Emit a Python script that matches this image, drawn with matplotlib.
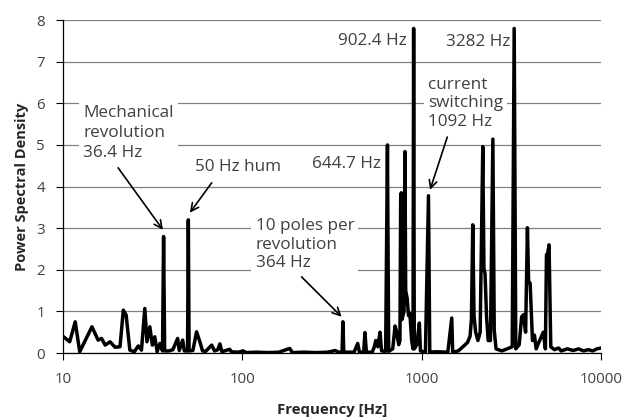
import matplotlib.pyplot as plt

plt.rcParams['font.family'] = ['Open Sans', 'DejaVu Sans']

# spectrum polyline (frequency in Hz, PSD)
freq = [10.0, 10.9, 11.7, 12.4, 14.5, 15.7, 16.4, 17.2, 18.3, 19.5, 20.8, 21.7, 22.5, 23.6,
        25.0, 26.3, 27.4, 28.6, 29.4, 30.5, 31.5, 32.5, 33.5, 34.7, 35.9, 36.4, 36.9, 39.0,
        41.0, 43.6, 44.5, 46.5, 47.5, 49.5, 50.0, 50.5, 53.0, 55.6, 58.0, 60.0, 62.5, 67.5,
        70.0, 73.0, 75.0, 77.0, 85.0, 87.0, 95.0, 101, 105, 120, 140, 160, 184, 190, 220,
        260, 300, 329, 345, 360, 364, 368, 420, 440, 450, 475, 483, 492, 530, 545, 555,
        570, 586, 598, 630, 644.7, 655, 690, 711, 722, 745, 757, 764, 770, 776, 798, 807,
        815, 830, 845, 860, 880, 895, 902.4, 910, 940, 971, 985, 1050, 1092, 1110, 1200,
        1400, 1472, 1490, 1600, 1700, 1800, 1862, 1895, 1928, 1960, 2000, 2060, 2120, 2193,
        2225, 2258, 2300, 2350, 2420, 2496, 2540, 2600, 2800, 3000, 3200, 3282, 3350, 3500,
        3611, 3700, 3800, 3890, 3950, 4027, 4150, 4258, 4350, 4550, 4770, 4900, 4967, 5050,
        5135, 5250, 5500, 5800, 6000, 6500, 7000, 7500, 8000, 8500, 9000, 9500, 10000]
psd = [0.40, 0.27, 0.75, 0.03, 0.63, 0.31, 0.35, 0.19, 0.27, 0.14, 0.15, 1.03, 0.91, 0.07,
       0.03, 0.17, 0.07, 1.07, 0.27, 0.63, 0.19, 0.39, 0.03, 0.23, 0.05, 2.80, 0.05, 0.05,
       0.08, 0.35, 0.06, 0.31, 0.05, 0.05, 3.20, 0.05, 0.06, 0.51, 0.27, 0.05, 0.04, 0.19,
       0.05, 0.08, 0.22, 0.03, 0.09, 0.03, 0.02, 0.05, 0.01, 0.02, 0.01, 0.02, 0.11, 0.01, 0.02,
       0.01, 0.02, 0.06, 0.02, 0.02, 0.75, 0.02, 0.02, 0.23, 0.02, 0.02, 0.49, 0.02, 0.02, 0.15, 0.30,
       0.15, 0.50, 0.05, 0.04, 5.00, 0.04, 0.10, 0.65, 0.55, 0.20, 0.30, 3.70, 3.85, 0.80, 1.00, 4.84,
       1.50, 1.32, 0.90, 0.95, 0.30, 0.10, 7.80, 0.10, 0.20, 0.72, 0.05, 0.02, 3.78, 0.02, 0.03,
       0.02, 0.84, 0.02, 0.05, 0.15, 0.25, 0.40, 0.80, 3.08, 0.90, 0.50, 0.30, 0.50, 4.96,
       2.04, 1.90, 0.90, 0.30, 0.30, 5.14, 0.55, 0.10, 0.05, 0.10, 0.15, 7.80, 0.10, 0.20,
       0.87, 0.92, 0.50, 3.01, 1.70, 1.68, 0.30, 0.43, 0.10, 0.30, 0.50, 0.10, 2.36, 2.40,
       2.60, 0.15, 0.08, 0.12, 0.05, 0.10, 0.06, 0.10, 0.05, 0.08, 0.05, 0.10, 0.12]

yticks = [0, 1, 2, 3, 4, 5, 6, 7, 8]
xticks = [10, 100, 1000, 10000]
xtick_labels = ['10', '100', '1000', '10000']

txt = '#404040'
fs = 12.3      # annotation text
tfs = 10.8     # tick labels

fig = plt.figure(figsize=(6.26, 4.19), dpi=100)
ax = fig.add_axes([0.1006, 0.1575, 0.8594, 0.7945])

ax.plot(freq, psd, color='black', lw=2.5, zorder=3, solid_joinstyle='round')

ax.set_xscale('log')
ax.set_xlim(10, 10000)
ax.set_ylim(0, 8)
ax.set_xticks(xticks)
ax.set_xticklabels(xtick_labels)
ax.minorticks_off()
ax.set_yticks(yticks)
ax.yaxis.grid(True, color='#808080', lw=0.9, zorder=0)
ax.set_axisbelow(True)
for s in ['top', 'right']:
    ax.spines[s].set_visible(False)
for s in ['left', 'bottom']:
    ax.spines[s].set_color('black')
    ax.spines[s].set_linewidth(0.9)
ax.tick_params(axis='y', direction='out', length=5, width=0.8, pad=8,
               labelsize=tfs, labelcolor=txt)
ax.tick_params(axis='x', direction='out', length=5, width=0.8, pad=9,
               labelsize=tfs, labelcolor=txt)

ax.set_xlabel('Frequency [Hz]', fontsize=10.8, fontweight='bold', color='#262626', labelpad=11)
ax.set_ylabel('Power Spectral Density', fontsize=10.5, fontweight='bold', color='#262626', labelpad=5)

box = dict(facecolor='white', edgecolor='none', pad=3)
arrow = dict(arrowstyle='->', lw=1.2, color='black', shrinkA=0, shrinkB=0, mutation_scale=14)

ax.text(13.0, 5.29, 'Mechanical\nrevolution\n36.4 Hz', ha='left', va='center', fontsize=fs,
        color=txt, linespacing=1.35, bbox=box, zorder=4)
ax.annotate('', xy=(36.1, 2.96), xytext=(20.3, 4.45), arrowprops=arrow, zorder=5)

ax.text(54.5, 4.47, '50 Hz hum', ha='left', va='center', fontsize=fs, color=txt, zorder=4)
ax.annotate('', xy=(51.0, 3.37), xytext=(67.5, 4.09), arrowprops=arrow, zorder=5)

ax.text(118.5, 2.60, '10 poles per\nrevolution\n364 Hz', ha='left', va='center', fontsize=fs,
        color=txt, linespacing=1.2, bbox=box, zorder=4)
ax.annotate('', xy=(358, 0.87), xytext=(214, 1.83), arrowprops=arrow, zorder=5)

ax.text(243.8, 4.55, '644.7 Hz', ha='left', va='center', fontsize=fs, color=txt, zorder=4)
ax.text(826, 7.51, '902.4 Hz', ha='right', va='center', fontsize=fs, color=txt, zorder=4)
ax.text(3112, 7.47, '3282 Hz', ha='right', va='center', fontsize=fs, color=txt, zorder=4)

ax.text(1089, 6.0, 'current\nswitching\n1092 Hz', ha='left', va='center', fontsize=fs,
        color=txt, linespacing=1.2, bbox=box, zorder=4)
ax.annotate('', xy=(1114, 3.92), xytext=(1390, 5.19), arrowprops=arrow, zorder=5)

fig.savefig('out.png', dpi=100)
